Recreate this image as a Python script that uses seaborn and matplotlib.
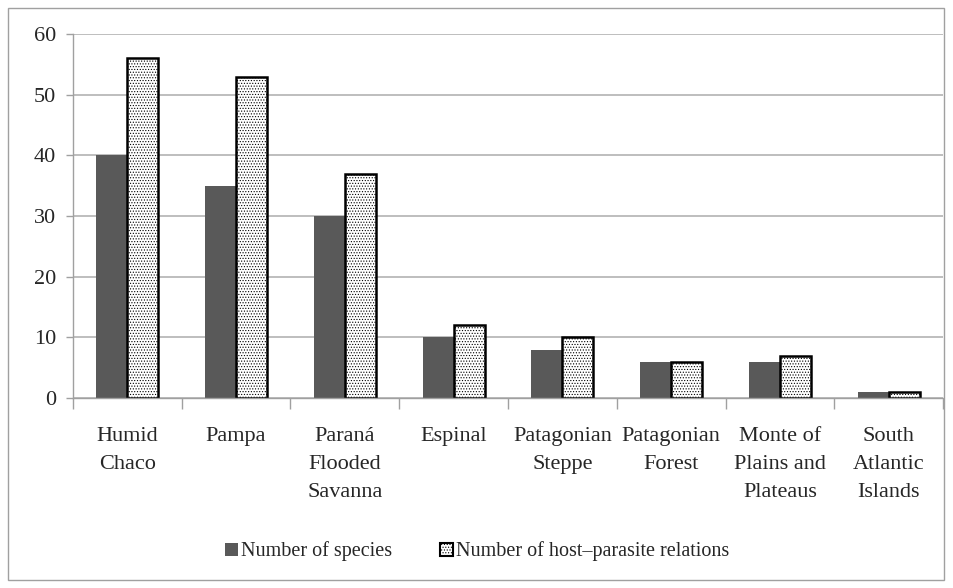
import matplotlib
matplotlib.use("Agg")
import matplotlib.pyplot as plt
import seaborn as sns
import pandas as pd
from matplotlib.patches import Rectangle, Patch

regions = ["Humid\nChaco", "Pampa", "Paraná\nFlooded\nSavanna", "Espinal",
           "Patagonian\nSteppe", "Patagonian\nForest", "Monte of\nPlains and\nPlateaus",
           "South\nAtlantic\nIslands"]
species = [40, 35, 30, 10, 8, 6, 6, 1]
relations = [56, 53, 37, 12, 10, 6, 7, 1]
series = ["Number of species", "Number of host\u2013parasite relations"]

df = pd.DataFrame({
    "region": regions * 2,
    "value": species + relations,
    "series": [series[0]] * len(regions) + [series[1]] * len(regions),
})

sns.set_style("white")
plt.rcParams["font.family"] = ["Liberation Serif", "DejaVu Serif"]
plt.rcParams["hatch.linewidth"] = 0.5

fig = plt.figure(figsize=(9.54, 5.88), dpi=100)
ax = fig.add_axes([0.0765, 0.323, 0.912, 0.619])

sns.barplot(data=df, x="region", y="value", hue="series", ax=ax,
            palette=["#595959", "white"], width=0.57, legend=False,
            saturation=1)

n = len(regions)
for i, p in enumerate(ax.patches[:2 * n]):
    if i >= n:
        p.set_hatch("......")
        p.set_edgecolor("black")
        p.set_linewidth(1.8)
    else:
        p.set_edgecolor("none")

ax.set_ylim(0, 60)
ax.set_xlim(-0.5, n - 0.5)
ax.set_yticks(range(0, 61, 10))
ax.yaxis.grid(True, color="#b3b3b3", linewidth=1.2)
ax.set_axisbelow(True)
ax.set_xlabel("")
ax.set_ylabel("")

for s in ["top", "right"]:
    ax.spines[s].set_visible(False)
for s in ["left", "bottom"]:
    ax.spines[s].set_color("#a0a0a0")
    ax.spines[s].set_linewidth(1.0)

ax.set_xticks([i - 0.5 for i in range(n + 1)], minor=True)
ax.tick_params(axis="x", which="minor", length=8, color="#a0a0a0", width=1, direction="out", bottom=True)
ax.tick_params(axis="x", which="major", length=0, pad=21, labelsize=16)
ax.tick_params(axis="y", length=5, color="#a0a0a0", width=1, left=True, labelsize=16, pad=7)
for lbl in ax.get_xticklabels():
    lbl.set_linespacing(1.62)
    lbl.set_verticalalignment("top")

handles = [Patch(facecolor="#595959", edgecolor="none"),
           Patch(facecolor="white", edgecolor="black", hatch="......", linewidth=1.5)]
fig.legend(handles, series, loc="center", bbox_to_anchor=(0.5, 0.062), ncol=2,
           frameon=False, fontsize=14.5, handlelength=0.65, handleheight=0.65,
           handletextpad=0.15, columnspacing=2.4)

fig.patches.append(Rectangle((8 / 954, 8 / 588), 936 / 954, 572 / 588, transform=fig.transFigure,
                             fill=False, edgecolor="#a0a0a0", linewidth=1.0))

fig.savefig("out.png", dpi=100)
